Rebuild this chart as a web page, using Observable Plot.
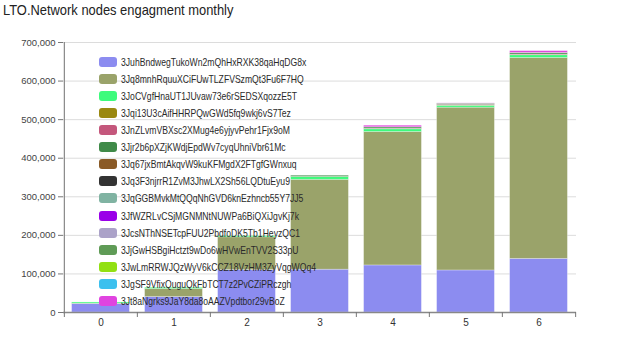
<!DOCTYPE html>
<html>
<head>
<meta charset="utf-8">
<script src="https://cdn.jsdelivr.net/npm/d3@7"></script>
<script src="https://cdn.jsdelivr.net/npm/@observablehq/plot@0.6"></script>
<style>
  html, body { margin: 0; padding: 0; background: #fff; }
  #wrap { position: relative; width: 640px; height: 356px; font-family: "Liberation Sans", Arial, Helvetica, sans-serif; }
  #title { height: 22px; font-size: 15px; color: #222; padding-left: 3px; line-height: 19px; }
  #title span { display: inline-block; transform: scaleX(0.86); transform-origin: left center; white-space: nowrap; }
  #legend { position: absolute; left: 99px; top: 53px; }
  .row { height: 17.12px; display: flex; align-items: center; font-size: 10.5px; color: #2a2a2a; white-space: nowrap; }
  .row .tx { display: inline-block; transform: scaleX(0.82); transform-origin: left center; }
  .sw { width: 18px; height: 10px; border-radius: 3px; margin-right: 4px; flex: none; }
  svg { display: block; }
</style>
</head>
<body>
<div id="wrap">
  <div id="title"><span>LTO.Network nodes engagment monthly</span></div>
  <div id="chart"></div>
  <div id="legend"></div>
</div>
<script>
const months = [0, 1, 2, 3, 4, 5, 6];
const yTicks = [0, 100000, 200000, 300000, 400000, 500000, 600000, 700000];

const seriesNames = [
  "3JuhBndwegTukoWn2mQhHxRXK38qaHqDG8x",
  "3Jq8mnhRquuXCiFUwTLZFVSzmQt3Fu6F7HQ",
  "3JoCVgfHnaUT1JUvaw73e6rSEDSXqozzE5T",
  "3Jqi13U3cAifHHRPQwGWd5fq9wkj6vS7Tez",
  "3JnZLvmVBXsc2XMug4e6yjyvPehr1Fjx9oM",
  "3Jjr2b6pXZjKWdjEpdWv7cyqUhniVbr61Mc",
  "3Jq67jxBmtAkqvW9kuKFMgdX2FTgfGWnxuq",
  "3Jq3F3njrrR1ZvM3JhwLX2Sh56LQDtuEyu9",
  "3JqGGBMvkMtQQqNhGVD6knEzhncb55Y7JJ5",
  "3JfWZRLvCSjMGNMNtNUWPa6BiQXiJgvKj7k",
  "3JcsNThNSETcpFUU2PbdfoDK5Tb1HeyzQC1",
  "3JjGwHSBgiHctzt9wDo6wHVwEnTVV2S33pU",
  "3JwLmRRWJQzWyV6kCCZ18VzHM3ZyVqgWQq4",
  "3JgSF9VfixQuguQkFbTCT7z2PvCZiPRczgh",
  "3Jt8aNgrks9JaY8da8oAAZVpdtbor29vBoZ"
];
const seriesColors = [
  "#8c8cf0", "#9aa36a", "#3dfb7c", "#9a8810", "#c4577c",
  "#3f8a48", "#8a5a26", "#333333", "#80b3a2", "#9a00e8",
  "#aba2c8", "#5f9b56", "#92e012", "#3cc0ee", "#e044e0"
];

// values per series, months 0..6
const s01 = [22000, 40000, 110000, 111000, 122000, 109000, 139000];
const s02 = [1000, 21000, 85000, 233000, 346000, 422000, 521000];
const s03 = [3000, 3000, 3000, 7000, 7000, 5000, 7000];
const s04 = [0, 0, 0, 500, 500, 500, 500];
const s05 = [0, 0, 0, 0, 1000, 2000, 1500];
const s06 = [0, 0, 500, 3000, 3500, 2500, 3500];
const s07 = [0, 0, 0, 0, 300, 300, 300];
const s08 = [0, 0, 0, 0, 0, 300, 300];
const s09 = [0, 0, 0, 0, 0, 0, 0];
const s10 = [0, 0, 0, 0, 0, 0, 0];
const s11 = [0, 0, 0, 0, 0, 0, 0];
const s12 = [0, 0, 0, 0, 0, 0, 0];
const s13 = [0, 0, 0, 0, 0, 0, 0];
const s14 = [0, 0, 0, 0, 0, 0, 0];
const s15 = [0, 0, 0, 0, 4000, 500, 4500];
const seriesValues = [s01, s02, s03, s04, s05, s06, s07, s08, s09, s10, s11, s12, s13, s14, s15];

const table = [];
months.forEach((m, i) => {
  seriesNames.forEach((name, k) => {
    const v = seriesValues[k][i];
    if (v > 0) table.push({month: m, series: name, value: v});
  });
});

const W = 640, H = 334, mL = 63, mR = 64, mT = 20, mB = 44;
const step = (W - mL - mR) / months.length;
const FONT = "'Liberation Sans', Arial, Helvetica, sans-serif";

const chart = Plot.plot({
  width: W, height: H,
  marginTop: mT, marginBottom: mB, marginLeft: mL, marginRight: mR,
  style: {fontFamily: FONT, background: "#fff"},
  x: {domain: months, padding: 0, axis: null},
  y: {domain: [0, 700000], axis: null},
  color: {domain: seriesNames, range: seriesColors},
  marks: [
    Plot.gridY(yTicks, {stroke: "#dcdcdc", strokeOpacity: 1}),
    Plot.barY(table, {x: "month", y: "value", fill: "series", insetLeft: 7.6, insetRight: 7.6, stroke: "#ffffff", strokeOpacity: 0.35, strokeWidth: 0.8}),
    Plot.axisY(yTicks, {label: null, tickSize: 5, tickPadding: 3, tickFormat: d3.format(","), stroke: "#777", fill: "#444", fontSize: 9.5}),
    Plot.ruleX([months[0]], {dx: -step / 2, stroke: "#888", strokeWidth: 1.2}),
    Plot.ruleY([0], {stroke: "#888", strokeWidth: 1.6}),
    Plot.ruleX(months, {dx: -step / 2, y1: 0, y2: 0, insetBottom: -5, stroke: "#777"}),
    Plot.ruleX([months[months.length - 1]], {dx: step / 2, y1: 0, y2: 0, insetBottom: -5, stroke: "#777"}),
    Plot.axisX(months, {label: null, tickSize: 0, tickPadding: 6, fill: "#333", fontSize: 10})
  ]
});
document.getElementById("chart").appendChild(chart);

const legend = document.getElementById("legend");
seriesNames.forEach((name, k) => {
  const row = document.createElement("div");
  row.className = "row";
  const sw = document.createElement("span");
  sw.className = "sw";
  sw.style.background = seriesColors[k];
  const tx = document.createElement("span");
  tx.className = "tx";
  tx.textContent = name;
  row.appendChild(sw);
  row.appendChild(tx);
  legend.appendChild(row);
});
</script>
</body>
</html>
